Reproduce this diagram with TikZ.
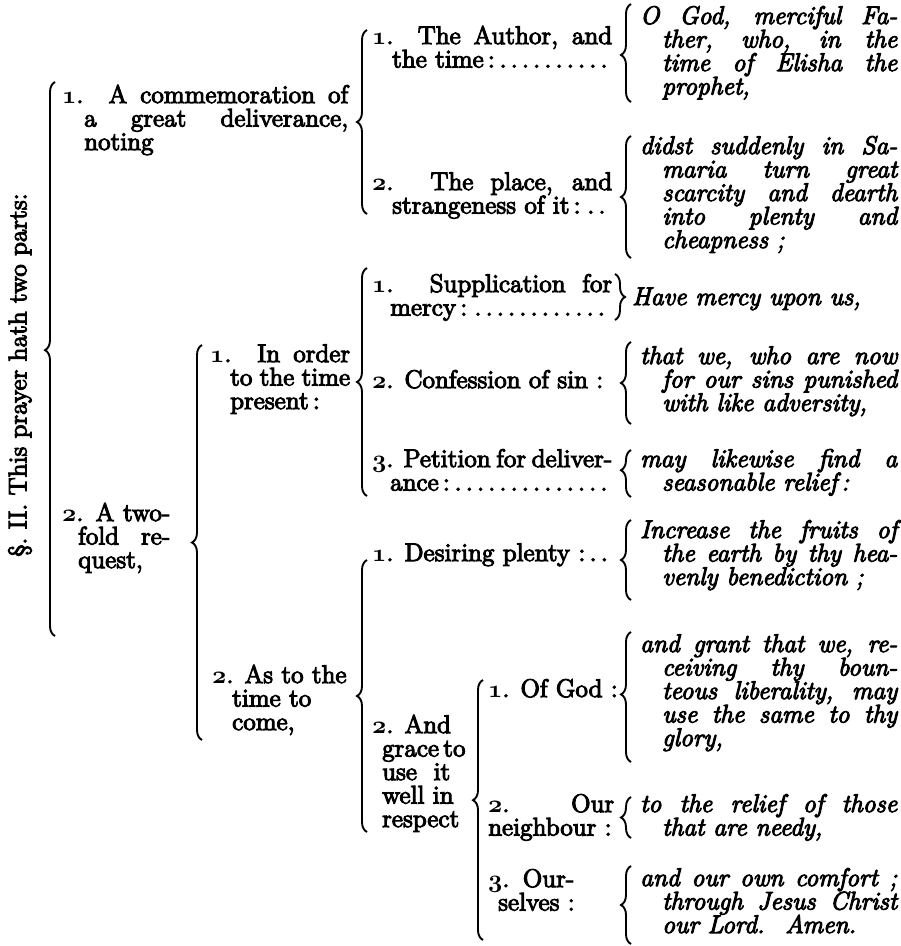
\documentclass[tikz,border=0pt]{standalone}
\usepackage{fontspec}
\setmainfont{lmroman12-regular.otf}[ItalicFont=lmroman12-italic.otf, FakeBold=4]
\usepackage{tikz}
\usetikzlibrary{decorations.pathreplacing}

\newcommand\nr[1]{{\usefont{OML}{cmm}{b}{it}#1}.}
\newcommand\jl[2]{\hbox to #1pt{#2}}
\newcommand\ji[3][22]{\hbox to #2pt{\hskip #1pt #3}}
\newcommand\rl[1]{\hbox{#1}}
\newcommand\ri[2][22]{\hbox{\hskip #1pt #2}}

\tikzset{
  txt/.style={anchor=base west, inner sep=0pt, font=\fontsize{25.5}{23.5}\selectfont},
  qt/.style={txt, font=\fontsize{25.5}{23.5}\selectfont\itshape},
  brc/.style={decorate, decoration={brace, amplitude=10pt, aspect=#1}, line width=1.9pt},
  brc/.default=0.5
}

\begin{document}
\begin{tikzpicture}[x=1pt, y=-1pt]
\useasboundingbox (0,0) rectangle (901,946);

\node[txt, anchor=center, rotate=90] (T) at (20,375) {§.~II. This prayer hath two parts:};

\node[txt] (A1) at (62,103) {\vtop{\jl{286}{\nr{1} A commemoration of}\ji{286}{a great deliverance,}\ri{noting}}};
\node[txt] (A11) at (372,44) {\vtop{\jl{240}{\nr{1} The Author, and}\ji[20]{240}{the time\,:\dotfill}}};
\node[txt] (A12) at (372,190) {\vtop{\jl{240}{\nr{2} The place, and}\ji[20]{240}{strangeness of it\,:\dotfill}}};
\node[qt] (q1) at (640,24) {\vtop{\jl{257}{O God, merciful Fa-}\ji{257}{ther, who, in the}\ji{257}{time of Elisha the}\ri{prophet,}}};
\node[qt] (q2) at (640,154) {\vtop{\jl{257}{didst suddenly in Sa-}\ji{257}{maria turn great}\ji{257}{scarcity and dearth}\ji{257}{into plenty and}\ri{cheapness ;}}};

\node[txt] (A2) at (62,521) {\vtop{\jl{108}{\nr{2} A two-}\ji[16]{108}{fold re-}\ri[16]{quest,}}};
\node[txt] (A21) at (210,362) {\vtop{\jl{140}{\nr{1} In order}\ji[20]{140}{to the time}\ri[20]{present\,:}}};
\node[txt] (A211) at (372,292) {\vtop{\jl{240}{\nr{1} Supplication for}\ji[18]{240}{mercy\,:\dotfill}}};
\node[qt] (q3) at (632,305) {Have mercy upon us,};
\node[txt] (A212) at (372,388) {\nr{2} Confession of sin :};
\node[qt] (q4) at (640,364) {\vtop{\jl{257}{that we, who are now}\ji{257}{for our sins punished}\ri{with like adversity,}}};
\node[txt] (A213) at (372,467) {\vtop{\jl{240}{\nr{3} Petition for deliver-}\ji[18]{240}{ance\,:\dotfill}}};
\node[qt] (q5) at (640,467) {\vtop{\jl{257}{may likewise find a}\ri{seasonable relief\,:}}};

\node[txt] (A22) at (212,683) {\vtop{\rl{\nr{2} As to the}\ri[20]{time to}\ri[20]{come,}}};
\node[txt] (A221) at (372,561) {\jl{240}{\nr{1} Desiring plenty :\dotfill}};
\node[qt] (q6) at (640,538) {\vtop{\jl{257}{Increase the fruits of}\ji{257}{the earth by thy hea-}\ri{venly benediction ;}}};
\node[txt] (A222) at (372,733) {\vtop{\rl{\nr{2} And}\ri[10]{grace\,to}\ri[10]{use\ \ it}\ri[10]{well in}\ri[10]{respect}}};
\node[txt] (A2221) at (488,697) {\nr{1} Of God :};
\node[qt] (q7) at (640,652) {\vtop{\jl{257}{and grant that we, re-}\ji{257}{ceiving thy boun-}\ji{257}{teous liberality, may}\ji{257}{use the same to thy}\ri{glory,}}};
\node[txt] (A2222) at (488,812) {\vtop{\jl{126}{\nr{2} Our}\rl{neighbour :}}};
\node[qt] (q8) at (640,812) {\vtop{\jl{257}{to the relief of those}\ri{that are needy,}}};
\node[txt] (A2223) at (488,887) {\vtop{\jl{86}{\nr{3} Our-}\ri[10]{selves :}}};
\node[qt] (q9) at (640,886) {\vtop{\jl{257}{and our own comfort ;}\ji{257}{through Jesus Christ}\ri{our Lord. \ Amen.}}};

\coordinate (b0t) at (55,82);   \coordinate (b0b) at (55,636);
\coordinate (b1t) at (367,30);  \coordinate (b1b) at (367,214);
\coordinate (b2t) at (202,345); \coordinate (b2b) at (202,740);
\coordinate (b3t) at (367,268); \coordinate (b3b) at (367,496);
\coordinate (b4t) at (367,560); \coordinate (b4b) at (367,832);
\coordinate (b5t) at (483,680); \coordinate (b5b) at (483,940);
\coordinate (c1t) at (631,4);   \coordinate (c1b) at (631,102);
\coordinate (c2t) at (631,136); \coordinate (c2b) at (631,258);
\coordinate (c3t) at (615,274); \coordinate (c3b) at (615,320);
\coordinate (c4t) at (631,342); \coordinate (c4b) at (631,424);
\coordinate (c5t) at (631,450); \coordinate (c5b) at (631,497);
\coordinate (c6t) at (631,520); \coordinate (c6b) at (631,600);
\coordinate (c7t) at (631,632); \coordinate (c7b) at (631,762);
\coordinate (c8t) at (631,797); \coordinate (c8b) at (631,838);
\coordinate (c9t) at (631,866); \coordinate (c9b) at (631,944);

\draw[brc=0.516] (b0b) -- (b0t);
\draw[brc] (b1b) -- (b1t);
\draw[brc] (b2b) -- (b2t);
\draw[brc] (b3b) -- (b3t);
\draw[brc] (b4b) -- (b4t);
\draw[brc=0.538] (b5b) -- (b5t);
\draw[brc=0.48] (c1b) -- (c1t);
\draw[brc] (c2b) -- (c2t);
\draw[brc] (c3t) -- (c3b);
\draw[brc] (c4b) -- (c4t);
\draw[brc=0.57] (c5b) -- (c5t);
\draw[brc] (c6b) -- (c6t);
\draw[brc=0.52] (c7b) -- (c7t);
\draw[brc] (c8b) -- (c8t);
\draw[brc] (c9b) -- (c9t);
\end{tikzpicture}
\end{document}
